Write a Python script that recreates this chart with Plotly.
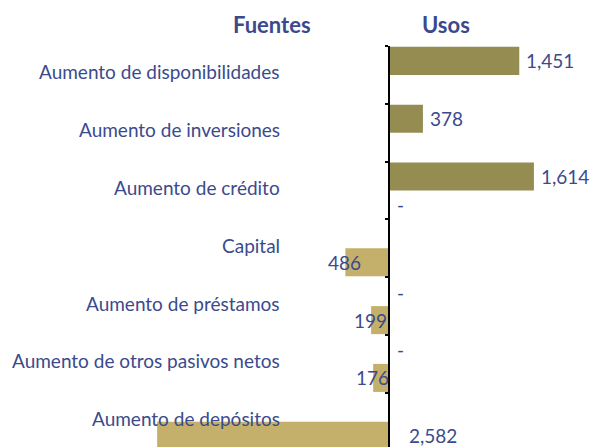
import plotly.graph_objects as go

categories = [
    "Aumento de disponibilidades",
    "Aumento de inversiones",
    "Aumento de crédito",
    "Capital",
    "Aumento de préstamos",
    "Aumento de otros pasivos netos",
    "Aumento de depósitos",
]
usos = [1451, 378, 1614, None, 0, 0, None]
fuentes = [None, None, 0, 486, 199, 176, 2582]
series_titles = ["Fuentes", "Usos"]

USOS_COLOR = "#958c52"
FUENTES_COLOR = "#c4b06a"
TEXT_COLOR = "#3b4a8c"
FONT = "Lato"

W, H = 592, 447
TOP = 46
XMIN, XMAX = -4332, 2261
n = len(categories)
ypos = list(range(n))
band_px = 57.8
ybottom = -0.5 + (H - TOP) / band_px

fig = go.Figure()
fig.add_trace(go.Bar(
    y=ypos, x=[v if v is not None else 0 for v in usos], orientation="h",
    marker=dict(color=USOS_COLOR, line=dict(width=0)), name="Usos",
    hoverinfo="skip",
))
fig.add_trace(go.Bar(
    y=ypos, x=[-v if v is not None else 0 for v in fuentes], orientation="h",
    marker=dict(color=FUENTES_COLOR, line=dict(width=0)), name="Fuentes",
    hoverinfo="skip",
))

def fmt(v):
    return "-" if v == 0 else f"{v:,}"

ann = []
off = 0.2425
for i, v in enumerate(usos):
    if v is None:
        continue
    if v == 0:
        ann.append(dict(x=0, y=i - off, text=fmt(v), xanchor="left", xshift=6))
    else:
        ann.append(dict(x=v, y=i - off, text=fmt(v), xanchor="left", xshift=5))
for i, v in enumerate(fuentes):
    if v is None:
        continue
    if v == 0:
        ann.append(dict(x=0, y=i + off, text=fmt(v), xanchor="left", xshift=6))
    elif v > 2000:
        ann.append(dict(x=0, y=i + off, text=fmt(v), xanchor="left", xshift=18))
    else:
        ann.append(dict(x=-v, y=i + off, text=fmt(v), xanchor="center", xshift=-1))
for a in ann:
    a.update(xref="x", yref="y", showarrow=False, yanchor="middle",
             font=dict(family=FONT, size=19, color=TEXT_COLOR))

for i, c in enumerate(categories):
    ann.append(dict(x=282 / W, y=i, xref="paper", yref="y", text=c, showarrow=False,
                    xanchor="right", yanchor="middle", yshift=3,
                    font=dict(family=FONT, size=19, color=TEXT_COLOR)))

title_px = [272, 446]
for t, px in zip(series_titles, title_px):
    ann.append(dict(x=px / W, y=1 + (TOP - 24) / (H - TOP), xref="paper", yref="paper",
                    text=f"<b>{t}</b>", showarrow=False, xanchor="center", yanchor="middle",
                    font=dict(family=FONT, size=22, color=TEXT_COLOR)))

fig.update_layout(
    width=W, height=H,
    margin=dict(l=0, r=0, t=TOP, b=0),
    paper_bgcolor="white", plot_bgcolor="white",
    barmode="group", bargap=0.03, bargroupgap=0,
    showlegend=False,
    annotations=ann,
    xaxis=dict(range=[XMIN, XMAX], visible=False, showgrid=False, zeroline=False,
               fixedrange=True),
    yaxis=dict(range=[ybottom, -0.5], showgrid=False, zeroline=False,
               showline=True, linecolor="black", linewidth=2,
               anchor="free", position=(0 - XMIN) / (XMAX - XMIN),
               ticks="outside", ticklen=3, tickwidth=2, tickcolor="black",
               tickvals=[i - 0.5 for i in range(n + 1)], showticklabels=False,
               fixedrange=True),
)

fig.write_html(
    "out.html",
    config={"displayModeBar": False},
    post_script="document.body.style.margin='0';document.body.style.overflow='hidden';",
)
